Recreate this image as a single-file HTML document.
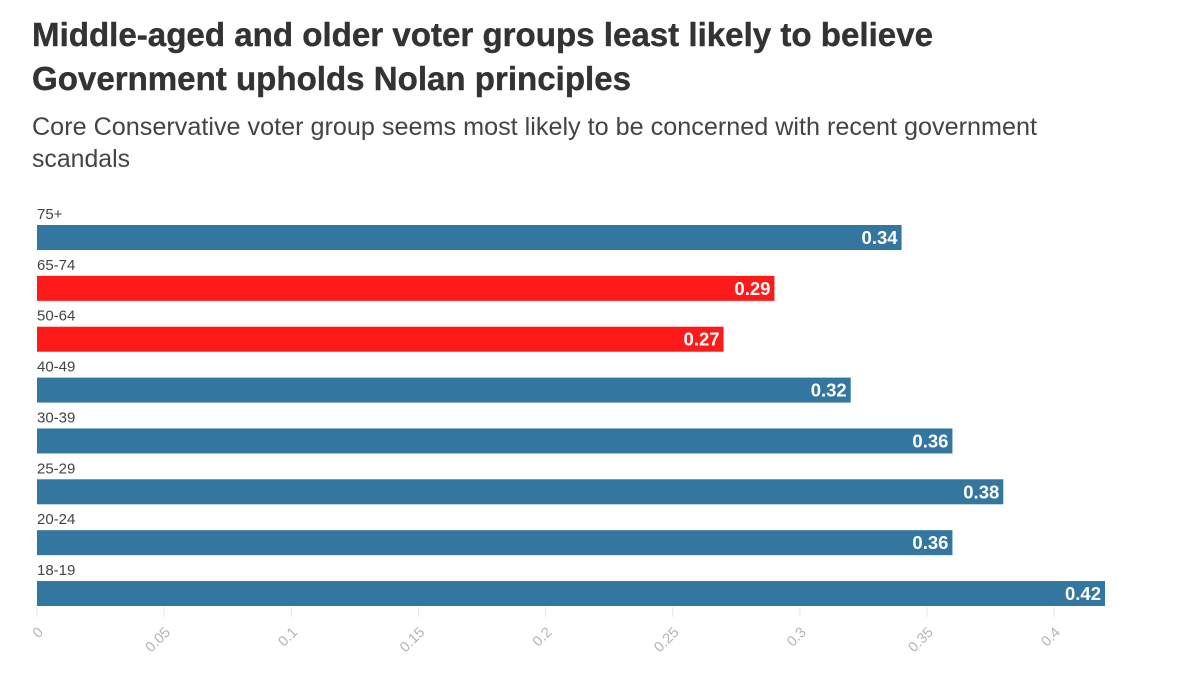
<!DOCTYPE html>
<html lang="en">
<head>
<meta charset="utf-8">
<title>Middle-aged and older voter groups chart</title>
<style>
  html, body { margin: 0; padding: 0; background: #fff; }
  body { width: 1200px; height: 700px; overflow: hidden; font-family: "Liberation Sans", sans-serif; }
  svg { display: block; filter: blur(0.35px); }
</style>
</head>
<body>
<svg id="chart" xmlns="http://www.w3.org/2000/svg" width="1200" height="700" viewBox="0 0 1200 700">
  <rect x="0" y="0" width="1200" height="700" fill="#ffffff"/>
  <text x="32" y="46" font-size="33" font-weight="700" fill="#333333" stroke="#333333" stroke-width="0.4" textLength="901" lengthAdjust="spacingAndGlyphs">Middle-aged and older voter groups least likely to believe</text>
  <text x="32" y="90" font-size="33" font-weight="700" fill="#333333" stroke="#333333" stroke-width="0.4" textLength="599" lengthAdjust="spacingAndGlyphs">Government upholds Nolan principles</text>
  <text x="32" y="135" font-size="25" fill="#444444" textLength="1005" lengthAdjust="spacingAndGlyphs">Core Conservative voter group seems most likely to be concerned with recent government</text>
  <text x="32" y="167" font-size="25" fill="#444444" textLength="98" lengthAdjust="spacingAndGlyphs">scandals</text>
  <g id="x-axis"></g>
  <g id="bars"></g>
</svg>
<script>
const categories = ['75+', '65-74', '50-64', '40-49', '30-39', '25-29', '20-24', '18-19'];
const values = [0.34, 0.29, 0.27, 0.32, 0.36, 0.38, 0.36, 0.42];
const highlighted = ['65-74', '50-64'];
const xTicks = [0, 0.05, 0.1, 0.15, 0.2, 0.25, 0.3, 0.35, 0.4];
const xTickLabels = ['0', '0.05', '0.1', '0.15', '0.2', '0.25', '0.3', '0.35', '0.4'];

const NS = 'http://www.w3.org/2000/svg';
const originX = 37;
const pxPerUnit = (1105 - 37) / 0.42;
const firstBarTop = 225;
const rowStep = 50.86;
const barHeight = 25;

function xScale(v) { return originX + v * pxPerUnit; }
function yScale(i) { return firstBarTop + i * rowStep; }

const axisGroup = document.getElementById('x-axis');
const barGroup = document.getElementById('bars');
const axisTop = yScale(categories.length - 1) + barHeight + 1;

xTicks.forEach(function (t, i) {
  const x = xScale(t);
  const tick = document.createElementNS(NS, 'line');
  
  
  tick.setAttribute('x1', x);
  tick.setAttribute('x2', x);
  tick.setAttribute('y1', axisTop);
  tick.setAttribute('y2', axisTop + 10);
  tick.setAttribute('stroke', '#e3e8ee');
  tick.setAttribute('stroke-width', '1');
  axisGroup.appendChild(tick);

  const label = document.createElementNS(NS, 'text');
  
  
  label.setAttribute('x', x + 7);
  label.setAttribute('y', axisTop + 26);
  label.setAttribute('text-anchor', 'end');
  label.setAttribute('font-size', '14.5');
  label.setAttribute('fill', '#b5b5b5');
  label.setAttribute('transform', 'rotate(-45 ' + (x + 7) + ' ' + (axisTop + 26) + ')');
  label.textContent = xTickLabels[i];
  axisGroup.appendChild(label);
});

categories.forEach(function (category, i) {
  const top = yScale(i);
  const right = xScale(values[i]);

  const catLabel = document.createElementNS(NS, 'text');
  
  
  catLabel.setAttribute('x', originX);
  catLabel.setAttribute('y', top - 6);
  catLabel.setAttribute('font-size', '15');
  catLabel.setAttribute('fill', '#444444');
  catLabel.textContent = category;
  barGroup.appendChild(catLabel);

  const bar = document.createElementNS(NS, 'rect');
  
  
  bar.setAttribute('x', originX);
  bar.setAttribute('y', top);
  bar.setAttribute('width', right - originX);
  bar.setAttribute('height', barHeight);
  bar.setAttribute('fill', highlighted.indexOf(category) >= 0 ? '#ff1a1a' : '#33769f');
  barGroup.appendChild(bar);

  const valueLabel = document.createElementNS(NS, 'text');
  
  
  valueLabel.setAttribute('x', right - 4);
  valueLabel.setAttribute('y', top + 19);
  valueLabel.setAttribute('text-anchor', 'end');
  valueLabel.setAttribute('font-size', '18.5');
  valueLabel.setAttribute('font-weight', '700');
  valueLabel.setAttribute('fill', '#ffffff');
  valueLabel.textContent = values[i].toFixed(2);
  barGroup.appendChild(valueLabel);
});
</script>
</body>
</html>
